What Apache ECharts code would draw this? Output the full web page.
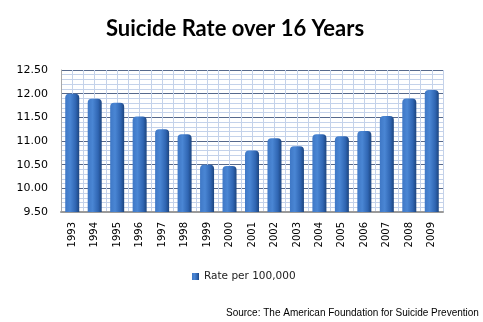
<!DOCTYPE html>
<html>
<head>
<meta charset="utf-8">
<script src="https://cdn.jsdelivr.net/npm/echarts@6/dist/echarts.min.js"></script>
<style>
html,body{margin:0;padding:0;background:#fff;}
#chart{width:483px;height:322px;}
</style>
</head>
<body>
<div id="chart"></div>
<script>
const years = ['1993','1994','1995','1996','1997','1998','1999','2000','2001','2002','2003','2004','2005','2006','2007','2008','2009'];
const rates = [12.00, 11.89, 11.81, 11.52, 11.25, 11.14, 10.50, 10.47, 10.80, 11.06, 10.89, 11.14, 11.10, 11.21, 11.53, 11.90, 12.08];
const seriesName = 'Rate per 100,000';
const titleText = 'Suicide Rate over 16 Years';
const sourceText = 'Source: The American Foundation for Suicide Prevention';

const chart = echarts.init(document.getElementById('chart'), null, {renderer: 'canvas'});
chart.setOption({
  animation: false,
  backgroundColor: '#ffffff',
  title: [
    {text: titleText, left: 101, top: 13,
     textStyle: {fontFamily: 'Lato', fontWeight: 'bold', fontSize: 22, color: '#000'}},
    {text: sourceText, left: 221, top: 303,
     textStyle: {fontFamily: 'Liberation Sans', fontWeight: 'normal', fontSize: 10, color: '#000'}}
  ],
  legend: {
    data: [seriesName], left: 187, top: 266, itemWidth: 7, itemHeight: 7, icon: 'rect',
    textStyle: {fontFamily: 'DejaVu Sans', fontSize: 10.5, color: '#222'}
  },
  grid: {left: 61, right: 40, top: 70, bottom: 110},
  xAxis: [
    {type: 'category', data: years,
     axisLine: {show: true, lineStyle: {color: '#9a9a9a', width: 2}},
     axisTick: {show: false},
     axisLabel: {rotate: 90, margin: 10, fontFamily: 'DejaVu Sans', fontSize: 10, color: '#000'},
     splitLine: {show: false}},
    {type: 'value', min: 0, max: 34, interval: 1, position: 'top',
     axisLine: {show: false}, axisTick: {show: false}, axisLabel: {show: false},
     splitLine: {show: true, lineStyle: {color: '#c4d2ea', width: 1}}}
  ],
  yAxis: {
    type: 'value', min: 9.5, max: 12.5, interval: 0.5,
    axisLine: {show: true, lineStyle: {color: '#a8a8a8', width: 1}},
    axisTick: {show: false},
    axisLabel: {margin: 13, fontFamily: 'DejaVu Sans', fontSize: 11, color: '#000',
                formatter: v => v.toFixed(2)},
    splitLine: {show: true, lineStyle: {color: '#56698c', width: 1}},
    minorTick: {show: false, splitNumber: 5},
    minorSplitLine: {show: true, lineStyle: {color: '#c4d2ea', width: 1}}
  },
  series: [{
    name: seriesName, type: 'bar', data: rates, xAxisIndex: 0, barWidth: 14,
    itemStyle: {
      borderRadius: [4, 4, 0, 0],
      color: new echarts.graphic.LinearGradient(0, 0, 1, 0, [
        {offset: 0, color: '#3f78c6'},
        {offset: 0.35, color: '#4a86d4'},
        {offset: 0.75, color: '#2f65b2'},
        {offset: 1, color: '#1c447e'}
      ])
    }
  }]
});
</script>
</body>
</html>
